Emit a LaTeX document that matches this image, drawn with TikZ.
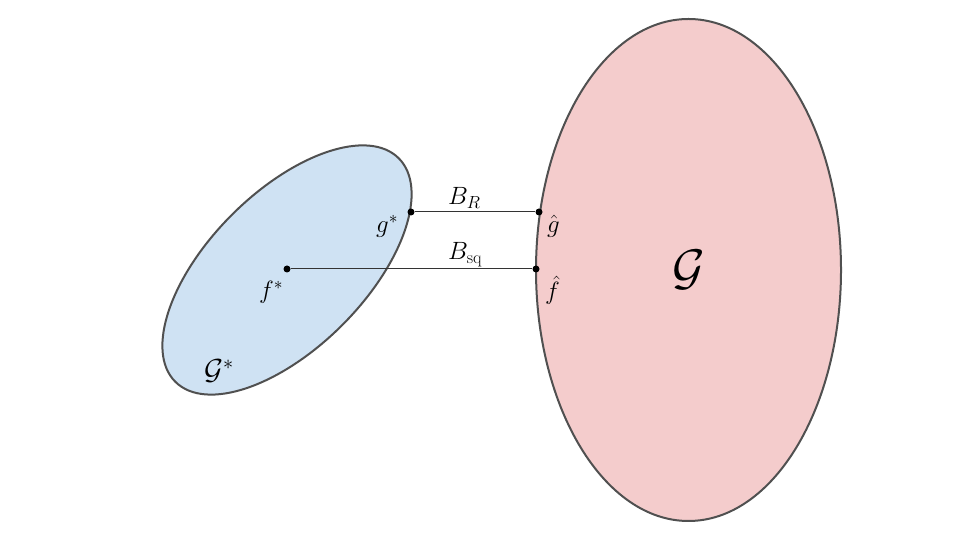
\RequirePackage{fix-cm}
\documentclass[tikz,border=0pt]{standalone}
\usetikzlibrary{shapes.geometric}

\definecolor{blueset}{HTML}{CFE2F3}
\definecolor{pinkset}{HTML}{F4CCCC}
\definecolor{setborder}{HTML}{505050}

\tikzstyle{region}=[ellipse, draw=setborder, line width=2pt, inner sep=0]
\tikzstyle{dot}=[circle, fill=black, inner sep=0, minimum size=7pt]
\tikzstyle{symbol}=[inner sep=0, font=\fontsize{25}{29}\selectfont]

\begin{document}
\begin{tikzpicture}[x=1pt, y=1pt]

  \useasboundingbox (0, 0) rectangle (960, 540);

  % the two sets
  \node (Gstar) at (287, 270) [region, fill=blueset,
        minimum width=316pt, minimum height=156pt, rotate=45] {};
  \node (G) at (688.5, 270) [region, fill=pinkset,
        minimum width=305pt, minimum height=502pt] {};

  % points
  \node (gstar) at (411, 328) [dot] {};
  \node (ghat) at (539, 328) [dot] {};
  \node (fstar) at (287, 271) [dot] {};
  \node (fhat) at (536, 271) [dot] {};

  \draw [line width=1pt, black!80] (gstar) -- (ghat);
  \draw [line width=1pt, black!80] (fstar) -- (fhat);

  % labels
  \node (lab_BR) at (448, 335) [symbol, anchor=base west] {$B_R$};
  \node (lab_Bsq) at (448, 280) [symbol, anchor=base west] {$B_{\mathrm{sq}}$};
  \node (lab_gstar) at (376, 307) [symbol, anchor=base west] {$g^*$};
  \node (lab_fstar) at (259, 241) [symbol, anchor=base west] {$f^*$};
  \node (lab_ghat) at (547, 307) [symbol, anchor=base west] {$\hat{g}$};
  \node (lab_fhat) at (545, 240) [symbol, anchor=base west] {$\hat{f}$};
  \node (lab_Gstar) at (204, 160) [symbol, anchor=base west,
        font=\fontsize{29}{34}\selectfont] {$\mathcal{G}^*$};
  \node (lab_G) at (689, 255) [symbol, anchor=base,
        font=\fontsize{50}{58}\selectfont] {$\mathcal{G}$};

\end{tikzpicture}
\end{document}
